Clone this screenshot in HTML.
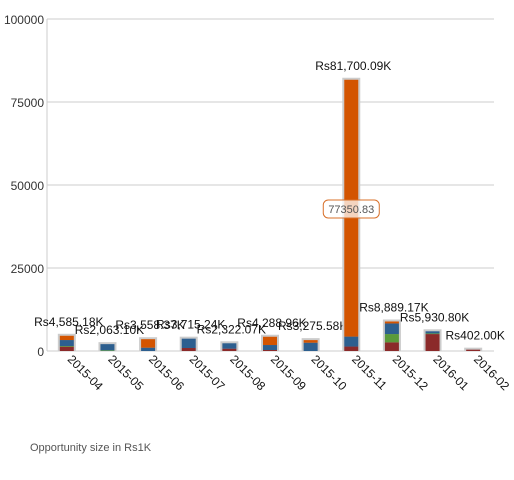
<!DOCTYPE html>
<html><head><meta charset="utf-8"><style>
body{margin:0;background:#fff;width:514px;height:480px;overflow:hidden;font-family:"Liberation Sans",sans-serif}
</style></head><body>
<svg id="c" width="514" height="480" style="position:absolute;left:0;top:0"></svg>
<div style="position:absolute;left:30px;top:442px;font-size:11px;color:#555">Opportunity size in Rs1K</div>
<script>
const categories=["2015-04","2015-05","2015-06","2015-07","2015-08","2015-09","2015-10","2015-11","2015-12","2016-01","2016-02"];
const seriesRed=[1300,0,0,900,700,300,0,1339,2600,5100,402];
const seriesGreen=[200,200,0,0,0,0,0,0,2500,200,0];
const seriesBlue=[1800,1863,1000,2815,1622,1500,2500,3000,3200,631,0];
const seriesOrange=[1285,0,2558,0,0,2489,776,77361,589,0,0];
const totalLabels=["Rs4,585.18K","Rs2,063.10K","Rs3,558.37K","Rs3,715.24K","Rs2,322.07K","Rs4,288.96K","Rs3,275.58K","Rs81,700.09K","Rs8,889.17K","Rs5,930.80K","Rs402.00K"];
const yTicks=[0,25000,50000,75000,100000];
const tooltipValue="77350.83";
const tooltipIndex=7;

const svg=document.getElementById('c');const NS='http://www.w3.org/2000/svg';
const x0=47,x1=494,y0=351,yTop=19,yMax=100000;
const y=v=>y0-(v/yMax)*(y0-yTop);
const step=(x1-x0)/categories.length;
const xc=i=>x0+step*(i+0.5)-0.5;
function mk(t,a,p){const e=document.createElementNS(NS,t);for(const k in a)e.setAttribute(k,a[k]);(p||svg).appendChild(e);return e;}
yTicks.forEach(t=>{
 const g=mk('line',{x1:x0,x2:x1,y1:y(t),y2:y(t),stroke:'#ccc','stroke-width':1});
 
 
 const l=mk('text',{x:44,y:y(t)+5,'text-anchor':'end','font-size':12,fill:'#333'});l.textContent=t;
 
 
});
mk('line',{x1:x0,x2:x0,y1:yTop,y2:y0,stroke:'#ccc'});
const cols=['#8b2a2a','#5a9a3a','#2d5f8f','#d35400'];
const series=[seriesRed,seriesGreen,seriesBlue,seriesOrange];
const w=14;
categories.forEach((c,i)=>{
 const tot=series.reduce((s,a)=>s+a[i],0);
 const bg=mk('rect',{x:xc(i)-w/2-2,y:y(tot)-2,width:w+4,height:y0-y(tot)+2,fill:'#ccc'});
 
 
 let acc=0;
 series.forEach((s,k)=>{
  if(!s[i])return;
  const r=mk('rect',{x:xc(i)-w/2,y:y(acc+s[i]),width:w,height:y(acc)-y(acc+s[i]),fill:cols[k]});
  
  
  acc+=s[i];
 });
 const lb=mk('text',{x:xc(i)+2,y:y(tot)-10,'text-anchor':'middle','font-size':12,fill:'#111'});lb.textContent=totalLabels[i];
 
 
 const xl=mk('text',{x:0,y:0,'font-size':12,fill:'#111',transform:`translate(${xc(i)},${y0+9}) rotate(45)`});xl.textContent=c;
 
 
});
const bx=xc(tooltipIndex);
const tb=mk('rect',{x:bx-28,y:200,width:56,height:18,rx:5,fill:'rgba(255,255,255,0.75)',stroke:'#d8702a','stroke-width':1});


const tt=mk('text',{x:bx,y:213,'text-anchor':'middle','font-size':11,fill:'#555'});tt.textContent=tooltipValue;


</script>
</body></html>
